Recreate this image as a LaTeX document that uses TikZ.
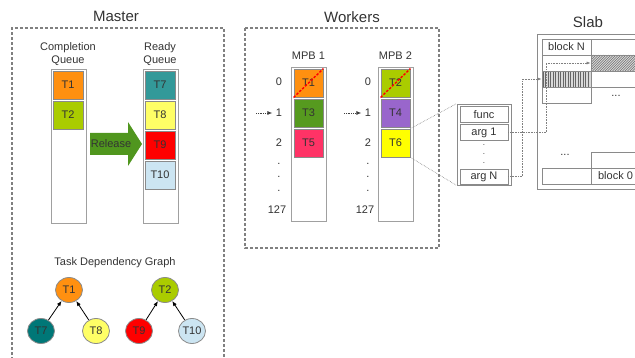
\documentclass[tikz,border=0pt]{standalone}
\usepackage{fontspec}
\setmainfont{Liberation Sans}
\usetikzlibrary{shapes.geometric,arrows.meta}
\definecolor{txt}{HTML}{333333}
\definecolor{cellgray}{HTML}{8A8A8A}
\definecolor{colgray}{HTML}{A0A0A0}
\definecolor{boxgray}{HTML}{808080}
\definecolor{cT1}{RGB}{255,144,16}
\definecolor{cT2}{RGB}{170,204,0}
\definecolor{cT3}{RGB}{86,154,31}
\definecolor{cT4}{RGB}{153,102,204}
\definecolor{cT5}{RGB}{255,51,102}
\definecolor{cT6}{RGB}{255,255,0}
\definecolor{cT7}{RGB}{51,153,153}
\definecolor{cT7g}{RGB}{0,119,119}
\definecolor{cT8}{RGB}{255,255,102}
\definecolor{cT9}{RGB}{255,0,0}
\definecolor{cT10}{RGB}{204,229,242}
\definecolor{crel}{RGB}{80,150,30}
\begin{document}
\begin{tikzpicture}[x=1pt,y=-1pt,
  every node/.style={text=txt,font=\fontsize{11}{13}\selectfont},
  cellbox/.style={draw=cellgray,line width=0.8pt,minimum width=30pt,minimum height=28pt,inner sep=0pt},
  colbox/.style={draw=colgray,line width=0.8pt,fill=white,inner sep=0pt,minimum width=35pt,minimum height=154pt},
  ttl/.style={font=\fontsize{15}{18}\selectfont},
  dbox/.style={draw=boxgray,dash pattern=on 3pt off 2pt,line width=1.2pt},
  tnode/.style={ellipse,draw=cellgray,line width=0.8pt,minimum width=27pt,minimum height=25pt,inner sep=0pt},
  garrow/.style={-{Latex[length=5pt,width=4pt]},line width=0.8pt,black},
  idxarrow/.style={densely dotted,line width=0.8pt,black!75,-{Latex[length=5pt,width=4pt]}},
  sconn/.style={densely dotted,draw=gray,line width=0.6pt},
  darr/.style={sconn,-{Latex[length=4pt,width=3pt]}},
  strike/.style={red,dash pattern=on 2.5pt off 1.5pt,line width=1.4pt},
  scell/.style={draw=cellgray,line width=0.8pt,minimum width=48pt,minimum height=16pt,inner sep=0pt},
  slabcell/.style={draw=cellgray,line width=0.7pt,minimum width=49pt,minimum height=16pt,inner sep=0pt},
  vdots13/.style={inner sep=0pt,align=center,font=\fontsize{11}{13.5}\selectfont},
  vdots9/.style={inner sep=0pt,align=center,font=\fontsize{8}{9}\selectfont}
]
\useasboundingbox (0,0) rectangle (635,358);

% ---------- Master ----------
\node[ttl] (mtitle) at (116,16) {Master};
\draw[dbox] (12,360) -- (12,28) -- (224,28) -- (224,360);

\node[align=center] (cqlabel) at (68,54.5) {Completion\\Queue};
\node[align=center] (rqlabel) at (160,54.5) {Ready\\Queue};
\node[colbox] (cq) at (68.5,146) {};
\node[colbox] (rq) at (160.5,146) {};

\node[cellbox,fill=cT1] (cqt1) at (68,85) {T1};
\node[cellbox,fill=cT2] (cqt2) at (68,115) {T2};
\node[cellbox,fill=cT7] (rqt7) at (160,85) {T7};
\node[cellbox,fill=cT8] (rqt8) at (160,115) {T8};
\node[cellbox,fill=cT9] (rqt9) at (160,145) {T9};
\node[cellbox,fill=cT10] (rqt10) at (160,175) {T10};

\fill[crel] (90,133) -- (128,133) -- (128,122) -- (142,144) -- (128,166) -- (128,155) -- (90,155) -- cycle;
\node (rel) at (111,144) {Release};

\node (tdg) at (115,263) {Task Dependency Graph};
\node[tnode,fill=cT1] (g1) at (69,290) {T1};
\node[tnode,fill=cT2] (g2) at (165,290) {T2};
\node[tnode,fill=cT7g] (g7) at (41,331) {T7};
\node[tnode,fill=cT8] (g8) at (96,331) {T8};
\node[tnode,fill=cT9] (g9) at (139,331) {T9};
\node[tnode,fill=cT10] (g10) at (192,331) {T10};
\draw[garrow] (g7) -- (g1);
\draw[garrow] (g8) -- (g1);
\draw[garrow] (g9) -- (g2);
\draw[garrow] (g10) -- (g2);

% ---------- Workers ----------
\node[ttl] (wtitle) at (352,17) {Workers};
\draw[dbox] (245,28) rectangle (439,248);

\node (m1label) at (308.5,56) {MPB 1};
\node (m2label) at (395.5,56) {MPB 2};
\node[colbox] (m1) at (308.5,144) {};
\node[colbox] (m2) at (395.5,144) {};

\node[cellbox,minimum width=29pt,fill=cT1] (w1t1) at (308.5,83) {T1};
\node[cellbox,minimum width=29pt,fill=cT3] (w1t3) at (308.5,113) {T3};
\node[cellbox,minimum width=29pt,fill=cT5] (w1t5) at (308.5,143) {T5};
\node[cellbox,minimum width=29pt,fill=cT2] (w2t2) at (395.5,83) {T2};
\node[cellbox,minimum width=29pt,fill=cT4] (w2t4) at (395.5,113) {T4};
\node[cellbox,minimum width=29pt,fill=cT6] (w2t6) at (395.5,143) {T6};
\draw[strike] (w1t1.south west) -- (w1t1.north east);
\draw[strike] (w2t2.south west) -- (w2t2.north east);

\node (a0) at (279,82) {0};
\node (a1) at (279,113) {1};
\node (a2) at (279,143) {2};
\node[vdots13] (ad) at (279,177) {.\\.\\.};
\node (a127) at (277,210) {127};
\node (b0) at (368,82) {0};
\node (b1) at (368,113) {1};
\node (b2) at (368,143) {2};
\node[vdots13] (bd) at (368,177) {.\\.\\.};
\node (b127) at (365,210) {127};
\coordinate (pa) at (256,113);
\coordinate (pb) at (344,113);
\draw[idxarrow] (pa) -- (a1.west);
\draw[idxarrow] (pb) -- (b1.west);

% ---------- Task struct ----------
\node[draw=cellgray,line width=0.8pt,fill=white,minimum width=54pt,minimum height=81pt,inner sep=0pt] (struct) at (484,144.5) {};
\node[scell] (func) at (484,114.5) {func};
\node[scell] (arg1) at (484,132.5) {arg 1};
\node[scell,minimum height=15pt] (argN) at (484,176.5) {arg N};
\node[vdots9] (sd) at (484,154.5) {.\\.\\.};
\draw[sconn] (w2t6.north east) -- (struct.north west);
\draw[sconn] (w2t6.south east) -- (struct.south west);

% ---------- Slab ----------
\node[ttl] (stitle) at (588,22) {Slab};
\draw[draw=cellgray,line width=0.8pt] (640,34) -- (537,34) -- (537,189) -- (640,189);
\draw[draw=cellgray,line width=0.7pt] (542,39) rectangle (591,103);
\draw[draw=cellgray,line width=0.7pt] (542,55) -- (591,55) (542,71) -- (591,71) (542,87) -- (591,87);
\draw[draw=cellgray,line width=0.7pt] (591,39) -- (640,39) (591,87) -- (640,87);
\node[slabcell] (blockN) at (566.5,47) {block N};

\begin{scope}
  \clip (591,55) rectangle (640,71);
  \fill[gray!30] (591,55) rectangle (640,71);
  \foreach \i in {0,2.5,...,70} \draw[gray!85!black,line width=0.4pt] (575+\i,71) -- (591+\i,55);
\end{scope}
\node[slabcell] (hatchA) at (615.5,63) {};
\begin{scope}
  \fill[gray!30] (542,71) rectangle (591,87);
  \foreach \i in {543,545.5,...,590} \draw[gray!80!black,line width=0.5pt] (\i,71) -- (\i,87);
\end{scope}
\node[slabcell] (hatchB) at (566.5,79) {};

\node (sdots1) at (616,96) {...};
\node (sdots2) at (565,155) {...};
\draw[draw=cellgray,line width=0.7pt] (591,152) rectangle (640,168);
\node[slabcell] (block0l) at (566.5,176) {};
\node[slabcell] (block0) at (615.5,176) {block 0};

\draw[darr] (arg1.east) -- ++(38,0) |- (hatchA.west);
\draw[darr] (argN.east) -- ++(14,0) |- (hatchB.west);
\end{tikzpicture}
\end{document}
